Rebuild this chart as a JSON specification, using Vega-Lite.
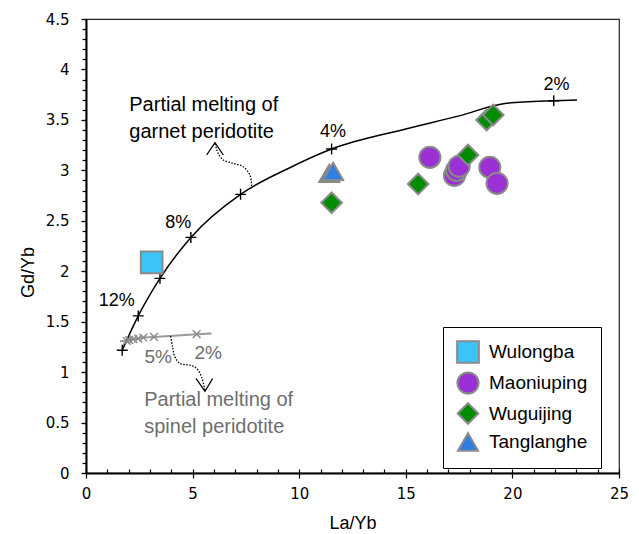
{
  "$schema": "https://vega.github.io/schema/vega-lite/v6.json",
  "width": 533,
  "height": 454,
  "autosize": {"type": "none"},
  "padding": {"left": 86, "top": 19, "right": 20, "bottom": 61},
  "background": "white",
  "config": {
    "view": {"stroke": "#222222", "strokeWidth": 1.2},
    "font": "Liberation Sans",
    "axis": {
      "grid": false,
      "domainColor": "black",
      "domainWidth": 2,
      "tickColor": "black",
      "tickWidth": 1.2,
      "labelFont": "DejaVu Sans",
      "labelFontSize": 15,
      "labelColor": "black",
      "titleFont": "Liberation Sans",
      "titleFontSize": 18,
      "titleFontWeight": "normal",
      "titleColor": "black"
    }
  },
  "datasets": {
    "garnet": [
      {"la": 1.70, "gd": 1.217, "tick": true},
      {"la": 2.45, "gd": 1.557, "tick": true},
      {"la": 3.47, "gd": 1.929, "tick": true},
      {"la": 4.92, "gd": 2.335, "tick": true},
      {"la": 7.25, "gd": 2.762, "tick": true},
      {"la": 9.56, "gd": 3.026, "tick": false},
      {"la": 11.52, "gd": 3.211, "tick": true},
      {"la": 15.0, "gd": 3.41, "tick": false},
      {"la": 17.5, "gd": 3.54, "tick": false},
      {"la": 19.72, "gd": 3.665, "tick": false},
      {"la": 21.94, "gd": 3.690, "tick": true},
      {"la": 23.03, "gd": 3.697, "tick": false}
    ],
    "spinel": [
      {"la": 1.59, "gd": 1.307, "tick": false},
      {"la": 1.91, "gd": 1.310, "tick": true},
      {"la": 2.03, "gd": 1.316, "tick": true},
      {"la": 2.22, "gd": 1.326, "tick": true},
      {"la": 2.45, "gd": 1.333, "tick": true},
      {"la": 2.69, "gd": 1.343, "tick": true},
      {"la": 3.19, "gd": 1.349, "tick": true},
      {"la": 5.19, "gd": 1.376, "tick": true},
      {"la": 5.89, "gd": 1.383, "tick": false}
    ],
    "arrows": [
      {"arrow": "garnet", "i": 0, "la": 7.77, "gd": 2.844},
      {"arrow": "garnet", "i": 1, "la": 7.69, "gd": 2.953},
      {"arrow": "garnet", "i": 2, "la": 7.37, "gd": 3.036},
      {"arrow": "garnet", "i": 3, "la": 6.91, "gd": 3.069},
      {"arrow": "garnet", "i": 4, "la": 6.44, "gd": 3.102},
      {"arrow": "garnet", "i": 5, "la": 6.20, "gd": 3.169},
      {"arrow": "garnet", "i": 6, "la": 6.05, "gd": 3.268},
      {"arrow": "spinel", "i": 0, "la": 3.97, "gd": 1.356},
      {"arrow": "spinel", "i": 1, "la": 4.06, "gd": 1.250},
      {"arrow": "spinel", "i": 2, "la": 4.17, "gd": 1.151},
      {"arrow": "spinel", "i": 3, "la": 4.41, "gd": 1.085},
      {"arrow": "spinel", "i": 4, "la": 4.88, "gd": 1.068},
      {"arrow": "spinel", "i": 5, "la": 5.19, "gd": 1.036},
      {"arrow": "spinel", "i": 6, "la": 5.42, "gd": 0.952},
      {"arrow": "spinel", "i": 7, "la": 5.58, "gd": 0.813}
    ],
    "heads": [
      {"arrow": "garnet", "i": 0, "la": 5.66, "gd": 3.152},
      {"arrow": "garnet", "i": 1, "la": 6.05, "gd": 3.274},
      {"arrow": "garnet", "i": 2, "la": 6.44, "gd": 3.152},
      {"arrow": "spinel", "i": 0, "la": 5.16, "gd": 0.937},
      {"arrow": "spinel", "i": 1, "la": 5.58, "gd": 0.810},
      {"arrow": "spinel", "i": 2, "la": 5.94, "gd": 0.937}
    ],
    "pct": [
      {"model": "garnet", "label": "12%", "la": 1.44, "gd": 1.706},
      {"model": "garnet", "label": "8%", "la": 4.33, "gd": 2.48},
      {"model": "garnet", "label": "4%", "la": 11.59, "gd": 3.383},
      {"model": "garnet", "label": "2%", "la": 22.07, "gd": 3.846},
      {"model": "spinel", "label": "5%", "la": 3.39, "gd": 1.151},
      {"model": "spinel", "label": "2%", "la": 5.73, "gd": 1.185}
    ],
    "notes": [
      {"model": "garnet", "label": "Partial melting of", "la": 2.03, "gd": 3.648},
      {"model": "garnet", "label": "garnet peridotite", "la": 2.03, "gd": 3.383},
      {"model": "spinel", "label": "Partial melting of", "la": 2.73, "gd": 0.721},
      {"model": "spinel", "label": "spinel peridotite", "la": 2.73, "gd": 0.453}
    ],
    "samples": [
      {"site": "Wulongba", "la": 3.08, "gd": 2.087},
      {"site": "Maoniuping", "la": 16.13, "gd": 3.129},
      {"site": "Maoniuping", "la": 17.28, "gd": 2.95},
      {"site": "Maoniuping", "la": 17.38, "gd": 3.0},
      {"site": "Maoniuping", "la": 17.5, "gd": 3.04},
      {"site": "Maoniuping", "la": 18.94, "gd": 3.03},
      {"site": "Maoniuping", "la": 19.28, "gd": 2.871},
      {"site": "Wuguijing", "la": 11.52, "gd": 2.679},
      {"site": "Wuguijing", "la": 15.58, "gd": 2.864},
      {"site": "Wuguijing", "la": 17.92, "gd": 3.152},
      {"site": "Wuguijing", "la": 18.79, "gd": 3.499},
      {"site": "Wuguijing", "la": 19.10, "gd": 3.549},
      {"site": "Tanglanghe", "la": 11.41, "gd": 2.97},
      {"site": "Tanglanghe", "la": 11.59, "gd": 2.99}
    ]
  },
  "encoding": {
    "x": {"field": "la", "type": "quantitative", "scale": {"domain": [0, 25], "nice": false, "zero": false}, "axis": null},
    "y": {"field": "gd", "type": "quantitative", "scale": {"domain": [0, 4.5], "nice": false, "zero": false}, "axis": null}
  },
  "layer": [
    {
      "data": {"name": "garnet"},
      "mark": {"type": "line", "color": "black", "strokeWidth": 1.5, "interpolate": "monotone"},
      "encoding": {
        "x": {
          "field": "la", "type": "quantitative",
          "scale": {"domain": [0, 25], "nice": false, "zero": false},
          "axis": {"orient": "bottom", "values": [0,1,2,3,4,5,6,7,8,9,10,11,12,13,14,15,16,17,18,19,20,21,22,23,24,25], "tickSize": -4, "labels": false, "domain": false, "title": null}
        },
        "y": {
          "field": "gd", "type": "quantitative",
          "scale": {"domain": [0, 4.5], "nice": false, "zero": false},
          "axis": {"orient": "left", "values": [0,0.1,0.2,0.3,0.4,0.5,0.6,0.7,0.8,0.9,1,1.1,1.2,1.3,1.4,1.5,1.6,1.7,1.8,1.9,2,2.1,2.2,2.3,2.4,2.5,2.6,2.7,2.8,2.9,3,3.1,3.2,3.3,3.4,3.5,3.6,3.7,3.8,3.9,4,4.1,4.2,4.3,4.4,4.5], "tickSize": 4, "labels": false, "domain": false, "title": null}
        }
      }
    },
    {
      "data": {"name": "garnet"},
      "transform": [{"filter": "datum.tick"}],
      "mark": {"type": "point", "shape": "M-1,0H1M0,-1V1", "filled": false, "stroke": "black", "strokeWidth": 1.4, "size": 120, "opacity": 1}
    },
    {
      "data": {"name": "spinel"},
      "mark": {"type": "line", "color": "#9a9a9a", "strokeWidth": 2}
    },
    {
      "data": {"name": "spinel"},
      "transform": [{"filter": "datum.tick"}],
      "mark": {"type": "point", "shape": "M-1,-1L1,1M-1,1L1,-1", "filled": false, "stroke": "#8a8a8a", "strokeWidth": 1.4, "size": 60, "opacity": 1}
    },
    {
      "data": {"name": "arrows"},
      "mark": {"type": "line", "color": "black", "strokeWidth": 1.3, "strokeDash": [1.5, 1.5], "interpolate": "catmull-rom"},
      "encoding": {
        "detail": {"field": "arrow", "type": "nominal"},
        "order": {"field": "i", "type": "quantitative"}
      }
    },
    {
      "data": {"name": "heads"},
      "mark": {"type": "line", "color": "black", "strokeWidth": 1.3},
      "encoding": {
        "detail": {"field": "arrow", "type": "nominal"},
        "order": {"field": "i", "type": "quantitative"}
      }
    },
    {
      "data": {"name": "pct"},
      "transform": [{"filter": "datum.model == 'garnet'"}],
      "mark": {"type": "text", "font": "Liberation Sans", "fontSize": 18, "color": "black", "align": "center", "baseline": "middle"},
      "encoding": {"text": {"field": "label"}}
    },
    {
      "data": {"name": "pct"},
      "transform": [{"filter": "datum.model == 'spinel'"}],
      "mark": {"type": "text", "font": "Liberation Sans", "fontSize": 19, "color": "#6e6e6e", "align": "center", "baseline": "middle"},
      "encoding": {"text": {"field": "label"}}
    },
    {
      "data": {"name": "notes"},
      "transform": [{"filter": "datum.model == 'garnet'"}],
      "mark": {"type": "text", "font": "Liberation Sans", "fontSize": 20, "color": "black", "align": "left", "baseline": "middle"},
      "encoding": {"text": {"field": "label"}}
    },
    {
      "data": {"name": "notes"},
      "transform": [{"filter": "datum.model == 'spinel'"}],
      "mark": {"type": "text", "font": "Liberation Sans", "fontSize": 20, "color": "#6e6e6e", "align": "left", "baseline": "middle"},
      "encoding": {"text": {"field": "label"}}
    },
    {
      "data": {"name": "samples"},
      "mark": {"type": "point", "filled": true, "opacity": 1, "stroke": "#8a8a8a", "strokeWidth": 2},
      "encoding": {
        "x": {
          "field": "la", "type": "quantitative",
          "scale": {"domain": [0, 25], "nice": false, "zero": false},
          "axis": {"orient": "bottom", "values": [0, 5, 10, 15, 20, 25], "format": "d", "tickSize": 5, "labelPadding": 8, "labelFlush": false, "title": "La/Yb", "titleY": 50, "titleBaseline": "middle"}
        },
        "y": {
          "field": "gd", "type": "quantitative",
          "scale": {"domain": [0, 4.5], "nice": false, "zero": false},
          "axis": {"orient": "left", "values": [0, 0.5, 1, 1.5, 2, 2.5, 3, 3.5, 4, 4.5], "format": "~g", "tickSize": 5, "labelPadding": 12, "labelFlush": false, "title": "Gd/Yb", "titleX": -58, "titleY": 253, "titleAngle": -90, "titleAlign": "center", "titleBaseline": "middle"}
        },
        "color": {
          "field": "site", "type": "nominal",
          "scale": {"domain": ["Wulongba", "Maoniuping", "Wuguijing", "Tanglanghe"], "range": ["#3cc3f7", "#9b30d4", "#008c00", "#2d7fe6"]},
          "legend": {
            "title": null, "orient": "none", "legendX": 357, "legendY": 308,
            "strokeColor": "black", "fillColor": "white", "padding": 13,
            "symbolSize": 440, "symbolStrokeColor": "#8a8a8a", "symbolStrokeWidth": 2, "symbolOpacity": 1,
            "labelFont": "Liberation Sans", "labelFontSize": 19, "labelColor": "black",
            "labelOffset": 9, "rowPadding": 1
          }
        },
        "shape": {
          "field": "site", "type": "nominal",
          "scale": {"domain": ["Wulongba", "Maoniuping", "Wuguijing", "Tanglanghe"], "range": ["square", "circle", "diamond", "triangle-up"]}
        },
        "size": {
          "field": "site", "type": "nominal",
          "scale": {"domain": ["Wulongba", "Maoniuping", "Wuguijing", "Tanglanghe"], "range": [470, 400, 560, 640]},
          "legend": null
        }
      }
    }
  ],
  "resolve": {"axis": {"x": "independent", "y": "independent"}}
}
